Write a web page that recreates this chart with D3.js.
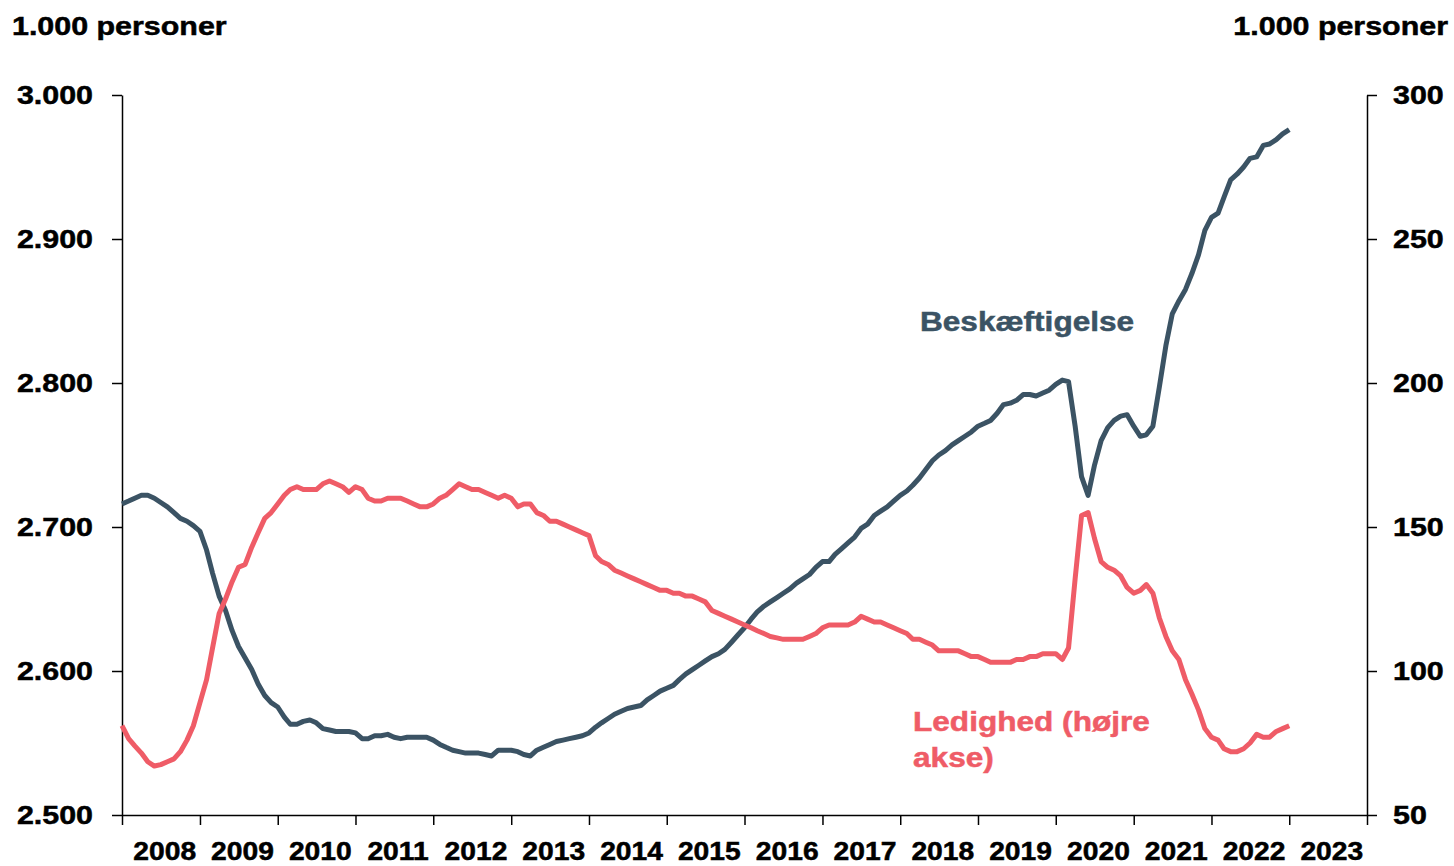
<!DOCTYPE html>
<html>
<head>
<meta charset="utf-8">
<script src="https://cdn.jsdelivr.net/npm/d3@7"></script>
<style>
  body { margin: 0; background: #fff; }
  text { font-family: "Liberation Sans", Arial, sans-serif; font-weight: bold; }
</style>
</head>
<body>
<div id="chart"><svg width="1454" height="866"></svg></div>
<script>
// monthly values, Jan 2008 - Jan 2023 (1.000 personer)
const beskaeftigelse = [
  2716, 2718, 2720, 2722, 2722, 2720, 2717, 2714, 2710, 2706, 2704, 2701, // 2008
  2697, 2684, 2668, 2652, 2642, 2628, 2617, 2609, 2601, 2591, 2583, 2578, // 2009
  2575, 2568, 2563, 2563, 2565, 2566, 2564, 2560, 2559, 2558, 2558, 2558, // 2010
  2557, 2553, 2553, 2555, 2555, 2556, 2554, 2553, 2554, 2554, 2554, 2554, // 2011
  2552, 2549, 2547, 2545, 2544, 2543, 2543, 2543, 2542, 2541, 2545, 2545, // 2012
  2545, 2544, 2542, 2541, 2545, 2547, 2549, 2551, 2552, 2553, 2554, 2555, // 2013
  2557, 2561, 2564, 2567, 2570, 2572, 2574, 2575, 2576, 2580, 2583, 2586, // 2014
  2588, 2590, 2594, 2598, 2601, 2604, 2607, 2610, 2612, 2615, 2620, 2625, // 2015
  2630, 2636, 2641, 2645, 2648, 2651, 2654, 2657, 2661, 2664, 2667, 2672, // 2016
  2676, 2676, 2681, 2685, 2689, 2693, 2699, 2702, 2708, 2711, 2714, 2718, // 2017
  2722, 2725, 2729, 2734, 2740, 2746, 2750, 2753, 2757, 2760, 2763, 2766, // 2018
  2770, 2772, 2774, 2779, 2785, 2786, 2788, 2792, 2792, 2791, 2793, 2795, // 2019
  2799, 2802, 2801, 2770, 2735, 2722, 2743, 2760, 2769, 2774, 2777, 2778, // 2020
  2770, 2763, 2764, 2770, 2797, 2826, 2848, 2857, 2865, 2876, 2889, 2906, // 2021
  2915, 2918, 2929, 2941, 2945, 2950, 2956, 2957, 2965, 2966, 2969, 2973, // 2022
  2976                                                                    // 2023
];

const ledighed = [
  81, 76.5, 74, 71.5, 68.5, 67, 67.5, 68.5, 69.5, 72, 76, 81,            // 2008
  89, 97, 108, 120, 125, 131, 136, 137, 143, 148, 153, 155,              // 2009
  158, 161, 163, 164, 163, 163, 163, 165, 166, 165, 164, 162,            // 2010
  164, 163, 160, 159, 159, 160, 160, 160, 159, 158, 157, 157,            // 2011
  158, 160, 161, 163, 165, 164, 163, 163, 162, 161, 160, 161,            // 2012
  160, 157, 158, 158, 155, 154, 152, 152, 151, 150, 149, 148,            // 2013
  147, 140, 138, 137, 135, 134, 133, 132, 131, 130, 129, 128,            // 2014
  128, 127, 127, 126, 126, 125, 124, 121, 120, 119, 118, 117,            // 2015
  116, 115, 114, 113, 112, 111.5, 111, 111, 111, 111, 112, 113,          // 2016
  115, 116, 116, 116, 116, 117, 119, 118, 117, 117, 116, 115,            // 2017
  114, 113, 111, 111, 110, 109, 107, 107, 107, 107, 106, 105,            // 2018
  105, 104, 103, 103, 103, 103, 104, 104, 105, 105, 106, 106,            // 2019
  106, 104, 108, 132, 154, 155, 146, 138, 136, 135, 133, 129,            // 2020
  127, 128, 130, 127, 118.5, 112, 107, 104, 97, 92, 86.5, 80,            // 2021
  77, 76, 73, 72, 72, 73, 75, 78, 77, 77, 79, 80,                        // 2022
  81                                                                     // 2023
];

const years = d3.range(2008, 2024);
const leftTicks = [2500, 2600, 2700, 2800, 2900, 3000];
const rightTicks = [50, 100, 150, 200, 250, 300];

const dark = '#3b5364';
const red = '#ef5c67';

let svg = d3.select('svg');

let x = d3.scaleTime()
  .domain([new Date(2008, 0, 1), new Date(2024, 0, 1)])
  .range([122, 1367]);
let yLeft = d3.scaleLinear().domain([2500, 3000]).range([815, 95]);
let yRight = d3.scaleLinear().domain([50, 300]).range([815, 95]);

const nf = d3.formatLocale({ decimal: ',', thousands: '.', grouping: [3], currency: ['', ''] }).format(',');

// the reference glyphs are stretched horizontally, so every label gets a scaleX
function label(g, px, py, str, anchor, color, size, sx) {
  color = color || '#000';
  return g.append('text')
    .attr('transform', 'translate(' + px + ',' + py + ') scale(' + (sx || 1.17) + ',1)')
    .attr('text-anchor', anchor)
    .attr('font-size', size || 26)
    .attr('fill', color)
    .attr('stroke', color)
    .attr('stroke-width', 0.5)
    .text(str);
}

// axes
svg.append('g')
  .attr('transform', 'translate(0,815)')
  .call(d3.axisBottom(x).tickValues(d3.range(2008, 2025).map(y => new Date(y, 0, 1))).tickSize(10).tickSizeOuter(0).tickFormat(''));
svg.append('g')
  .attr('transform', 'translate(122,0)')
  .call(d3.axisLeft(yLeft).tickValues(leftTicks).tickSize(10).tickSizeOuter(0).tickFormat(''));
svg.append('g')
  .attr('transform', 'translate(1367,0)')
  .call(d3.axisRight(yRight).tickValues(rightTicks).tickSize(10).tickSizeOuter(0).tickFormat(''));

svg.selectAll('.domain, .tick line').attr('stroke', '#000').attr('stroke-width', 1.5);

// tick labels
let labels = svg.append('g');
leftTicks.forEach(v => label(labels, 93, yLeft(v) + 9, nf(v), 'end'));
rightTicks.forEach(v => label(labels, 1393, yRight(v) + 9, nf(v), 'start'));
years.forEach(yr => label(labels, x(new Date(yr, 6, 1)) + 4, 860, yr, 'middle', '#000', 25, 1.13));

label(labels, 12, 35, '1.000 personer', 'start');
label(labels, 1448, 35, '1.000 personer', 'end');

// lines
let months = beskaeftigelse.map((d, i) => new Date(2008, i, 1));

svg.append('path')
  .datum(beskaeftigelse)
  .attr('fill', 'none')
  .attr('stroke', dark)
  .attr('stroke-width', 5)
  .attr('stroke-linejoin', 'round')
  .attr('d', d3.line().x((d, i) => x(months[i])).y(d => yLeft(d)));

svg.append('path')
  .datum(ledighed)
  .attr('fill', 'none')
  .attr('stroke', red)
  .attr('stroke-width', 5)
  .attr('stroke-linejoin', 'round')
  .attr('d', d3.line().x((d, i) => x(months[i])).y(d => yRight(d)));

// series labels
label(svg, 920, 331, 'Beskæftigelse', 'start', dark, 27);
label(svg, 913, 731, 'Ledighed (højre', 'start', red, 27);
label(svg, 913, 767, 'akse)', 'start', red, 27);
</script>
</body>
</html>
